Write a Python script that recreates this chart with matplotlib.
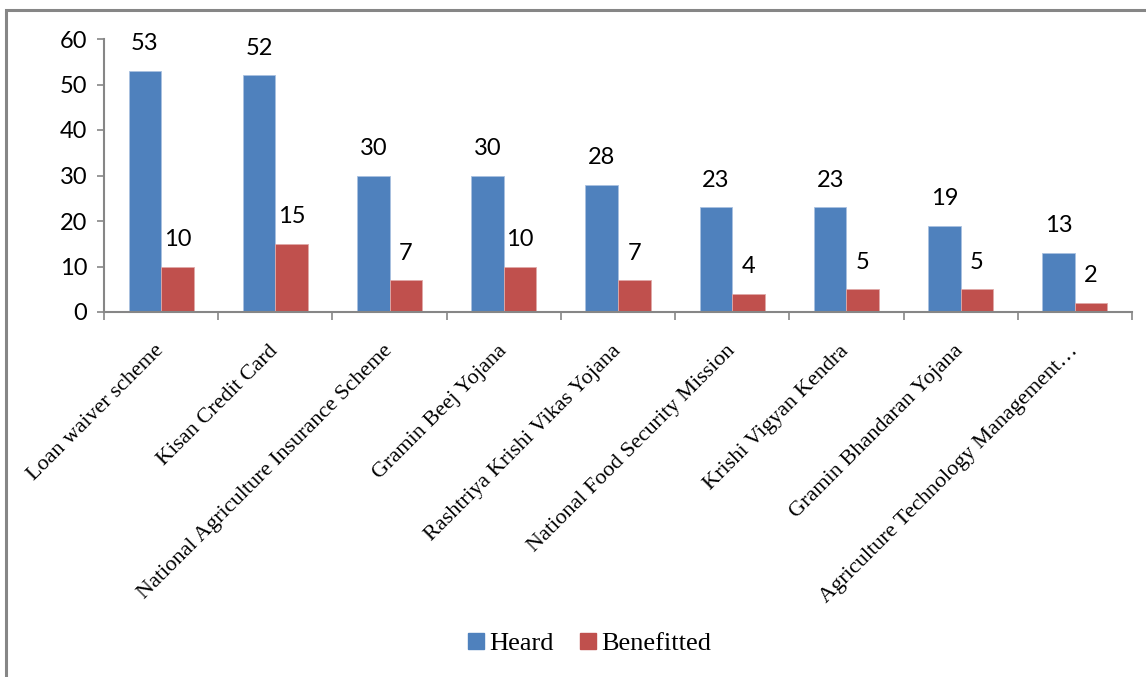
import numpy as np
import matplotlib.pyplot as plt
from matplotlib.patches import Rectangle, Patch

schemes = ['Loan waiver scheme', 'Kisan Credit Card',
           'National Agriculture Insurance Scheme', 'Gramin Beej Yojana',
           'Rashtriya Krishi Vikas Yojana', 'National Food Security Mission',
           'Krishi Vigyan Kendra', 'Gramin Bhandaran Yojana',
           'Agriculture Technology Management\u2026']
heard = [53, 52, 30, 30, 28, 23, 23, 19, 13]
benefitted = [10, 15, 7, 10, 7, 4, 5, 5, 2]

blue = '#4F81BD'
red = '#C0504D'
grey = '#868686'

W, H = 1146, 677
fig = plt.figure(figsize=(W / 100, H / 100), dpi=100)

# outer chart frame (top/left visible, rest runs off the picture)
fig.patches.append(Rectangle((6 / W, -0.05), 1.2, 1 - 10 / H + 0.05,
                             transform=fig.transFigure, fill=False,
                             edgecolor=grey, linewidth=2.2))

ax = fig.add_axes([104 / W, 1 - 312 / H, (1132 - 104) / W, 273 / H])

x = np.arange(len(schemes))
bw = 0.285
b1 = ax.bar(x - bw / 2, heard, bw, color=blue, edgecolor='#a9c1e0', linewidth=0.6)
b2 = ax.bar(x + bw / 2, benefitted, bw, color=red, edgecolor='#e0a9a8', linewidth=0.6)

for bars, vals in [(b1, heard), (b2, benefitted)]:
    for r, v in zip(bars, vals):
        ax.annotate(str(v), (r.get_x() + r.get_width() / 2, v),
                    xytext=(0, 19.5), textcoords='offset points',
                    ha='center', va='center', fontsize=17, family='Lato')

ax.set_xlim(-0.5, len(schemes) - 0.5)
ax.set_ylim(0, 60)
ax.set_yticks(range(0, 61, 10))
for s in ['top', 'right']:
    ax.spines[s].set_visible(False)
for s in ['left', 'bottom']:
    ax.spines[s].set_color(grey)
    ax.spines[s].set_linewidth(1.5)

ax.tick_params(axis='y', length=5, width=1.2, color=grey, pad=7,
               labelsize=17)
for t in ax.get_yticklabels():
    t.set_family('Lato')

ax.set_xticks(x)
ax.set_xticks(np.arange(-0.5, len(schemes)), minor=True)
ax.tick_params(axis='x', which='major', length=0, pad=26)
ax.tick_params(axis='x', which='minor', length=6, width=1.2, color=grey)
ax.set_xticklabels(schemes, rotation=45, ha='right', va='center',
                   rotation_mode='anchor', fontsize=16,
                   family='Liberation Serif')

handles = [Patch(color=blue, label='Heard'), Patch(color=red, label='Benefitted')]
fig.legend(handles=handles, loc='center', bbox_to_anchor=(590 / W, 1 - 644 / H),
           ncol=2, frameon=False, prop={'family': 'Liberation Serif', 'size': 19},
           handlelength=0.6, handleheight=0.6, handletextpad=0.2,
           columnspacing=1.0)

fig.savefig('out.png', dpi=100)
